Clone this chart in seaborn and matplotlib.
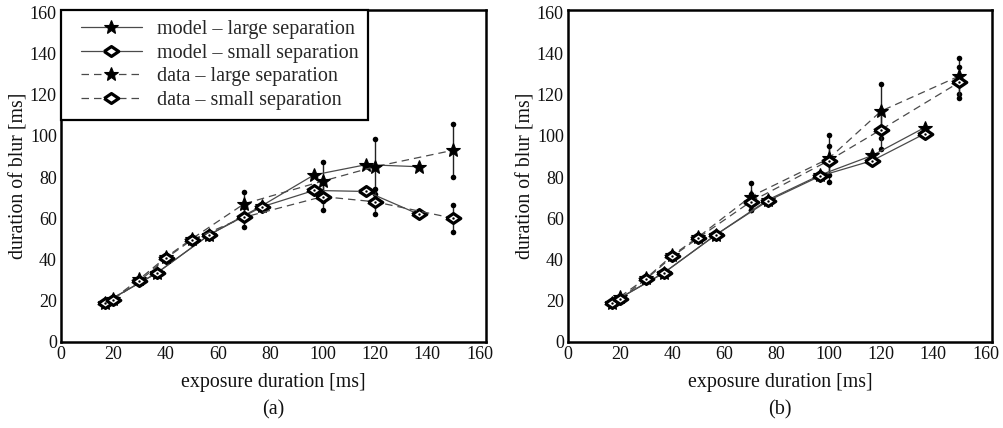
import numpy as np
import pandas as pd
import matplotlib
matplotlib.use("Agg")
import matplotlib.pyplot as plt
from matplotlib.legend_handler import HandlerLine2D
from matplotlib.lines import Line2D
import seaborn as sns

# exposure durations [ms]
model_x = [16.7, 36.7, 56.7, 76.7, 96.7, 116.7, 136.7]
data_x = [20, 30, 40, 50, 70, 100, 120, 150]

# panel (a): duration of blur [ms]
model_large_a = [19, 33.5, 52, 66, 81, 86, 85]
model_small_a = [19, 33.5, 52, 65.5, 73.5, 73, 62]
data_large_a = [21, 30.5, 41, 50, 67, 78, 85, 93]
data_small_a = [20.5, 29.5, 40.5, 49.5, 60.5, 70.5, 68, 60]
err_large_a = [0, 0, 0, 0, 5.5, 9.5, 13.4, 12.8]
err_small_a = [0, 0, 0, 0, 4.8, 6.5, 6.0, 6.5]

# panel (b): duration of blur [ms]
model_large_b = [19, 33.5, 52, 69, 81, 90.5, 104]
model_small_b = [19, 33.5, 52, 68.5, 80.5, 88, 101]
data_large_b = [22, 31, 42, 51, 70.5, 89, 112, 129]
data_small_b = [21, 30.5, 41.5, 50.5, 68, 88, 103, 126]
err_large_b = [0, 0, 0, 0, 6.5, 11.5, 13, 8.7]
err_small_b = [0, 0, 0, 0, 4, 7, 9.5, 7.5]

series_labels = ["model \u2013 large separation", "model \u2013 small separation",
                 "data \u2013 large separation", "data \u2013 small separation"]
ticks = [0, 20, 40, 60, 80, 100, 120, 140, 160]
panel_letters = ["(a)", "(b)"]

sns.set_theme(style="white")
plt.rcParams["font.family"] = ["Liberation Serif", "DejaVu Serif"]

DIAMOND = [(-1, 0), (0, 0.68), (1, 0), (0, -0.68), (-1, 0)]
LINE_C = "#4a4a4a"
DASH = (0, (6, 4))
TEXT_C = "#111111"

star_kw = dict(marker="*", markersize=10, markerfacecolor="black",
               markeredgecolor="black", markeredgewidth=0.8)
diam_kw = dict(marker=DIAMOND, markersize=10.5, markerfacecolor="white",
               markeredgecolor="black", markeredgewidth=2.3)

fig = plt.figure(figsize=(10.04, 4.28), dpi=100)
ax_a = fig.add_axes([61 / 1004, 86 / 428, 425 / 1004, 332 / 428])
ax_b = fig.add_axes([568 / 1004, 86 / 428, 424 / 1004, 332 / 428])


def draw_errors(ax, x, y, err):
    x = np.asarray(x, float)
    y = np.asarray(y, float)
    err = np.asarray(err, float)
    m = err > 0
    ax.errorbar(x[m], y[m], yerr=err[m], fmt="none", ecolor="#222222",
                elinewidth=1.0, capsize=0, zorder=2)
    ends = pd.DataFrame({"x": np.concatenate([x[m], x[m]]),
                         "y": np.concatenate([y[m] - err[m], y[m] + err[m]])})
    sns.scatterplot(data=ends, x="x", y="y", ax=ax, color="black", s=16,
                    edgecolor="black", linewidth=0, zorder=2, legend=False)


def centre_dots(ax, x, y):
    sns.scatterplot(x=x, y=y, ax=ax, color="black", s=3, linewidth=0,
                    zorder=6, legend=False)


def draw_panel(ax, ml, ms, dl, ds, el, es):
    draw_errors(ax, data_x, dl, el)
    draw_errors(ax, data_x, ds, es)
    sns.lineplot(x=model_x, y=ml, ax=ax, color=LINE_C, linewidth=0.9,
                 sort=False, estimator=None, zorder=4, **star_kw)
    sns.lineplot(x=model_x, y=ms, ax=ax, color=LINE_C, linewidth=0.9,
                 sort=False, estimator=None, zorder=4, **diam_kw)
    sns.lineplot(x=data_x, y=dl, ax=ax, color=LINE_C, linewidth=0.9,
                 linestyle=DASH, sort=False, estimator=None, zorder=4, **star_kw)
    sns.lineplot(x=data_x, y=ds, ax=ax, color=LINE_C, linewidth=0.9,
                 linestyle=DASH, sort=False, estimator=None, zorder=4, **diam_kw)
    centre_dots(ax, model_x, ms)
    centre_dots(ax, data_x, ds)

    ax.set_xlim(0, 162.5)
    ax.set_ylim(0, 161)
    ax.set_xticks(ticks)
    ax.set_yticks(ticks)
    ax.tick_params(axis="both", length=0, labelsize=13, pad=3, colors=TEXT_C)
    for s in ax.spines.values():
        s.set_visible(True)
        s.set_color("black")
        s.set_linewidth(1.8)
    ax.set_xlabel("exposure duration [ms]", fontsize=14.3, labelpad=7, color=TEXT_C)
    ax.set_ylabel("duration of blur [ms]", fontsize=14.3, labelpad=1, color=TEXT_C)
    ax.grid(False)


draw_panel(ax_a, model_large_a, model_small_a, data_large_a, data_small_a,
           err_large_a, err_small_a)
draw_panel(ax_b, model_large_b, model_small_b, data_large_b, data_small_b,
           err_large_b, err_small_b)


class MarkerAtStart(HandlerLine2D):
    """Legend handle with the marker near the left end of the line."""

    def get_xdata(self, legend, xdescent, ydescent, width, height, fontsize):
        x0 = -xdescent + 0.14 * width
        xdata = np.array([x0, -xdescent + width])
        return xdata, np.array([x0])


handles = [
    Line2D([], [], color=LINE_C, linewidth=0.9, **star_kw),
    Line2D([], [], color=LINE_C, linewidth=0.9, **diam_kw),
    Line2D([], [], color=LINE_C, linewidth=0.9, linestyle=DASH, **star_kw),
    Line2D([], [], color=LINE_C, linewidth=0.9, linestyle=DASH, **diam_kw),
]
leg = ax_a.legend(handles, series_labels, loc="upper left", borderaxespad=0,
                  fontsize=14.5, frameon=True, fancybox=False, handlelength=3.5,
                  handletextpad=0.75, labelspacing=0.22, borderpad=0.5,
                  handler_map={h: MarkerAtStart() for h in handles})
leg.get_frame().set_edgecolor("black")
leg.get_frame().set_linewidth(1.6)
leg.get_frame().set_facecolor("white")
leg.get_frame().set_alpha(1)

fig.text(273 / 1004, 1 - 410 / 428, panel_letters[0], ha="center", va="center",
         fontsize=14.5, color=TEXT_C)
fig.text(780 / 1004, 1 - 410 / 428, panel_letters[1], ha="center", va="center",
         fontsize=14.5, color=TEXT_C)

fig.savefig("out.png", dpi=100)
